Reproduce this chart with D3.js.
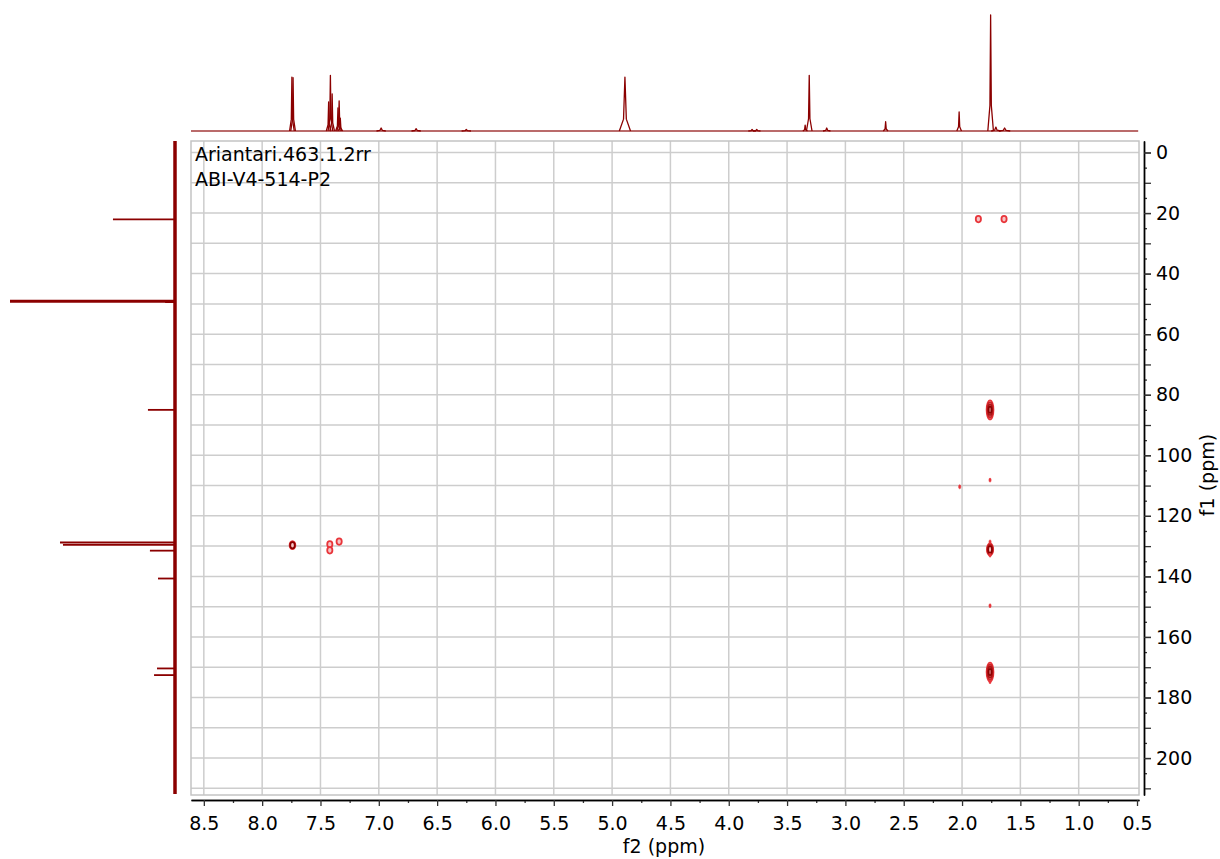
<!DOCTYPE html>
<html>
<head>
<meta charset="utf-8">
<script src="https://cdn.jsdelivr.net/npm/d3@7"></script>
<style>
  body { margin: 0; background: #fff; }
  svg { display: block; }
  text { font-family: "DejaVu Sans", Verdana, sans-serif; fill: #000; }
</style>
</head>
<body>
<svg id="chart" width="1220" height="859"></svg>
<script>
// dataset labels
const titleLines = ["Ariantari.463.1.2rr", "ABI-V4-514-P2"];

// 1H projection (top trace): shift (ppm), height (% of tallest), half width (ppm)
const hShift  = [7.745, 7.735, 7.43, 7.415, 7.40, 7.35, 7.34, 7.33, 6.98, 6.68, 6.25, 4.89, 3.80, 3.76, 3.345, 3.31, 3.16, 2.655, 2.025, 1.755, 1.71, 1.635];
const hHeight = [46.5, 46, 25, 48, 32, 20, 26, 11, 2.6, 2, 1.3, 46.5, 1.3, 1.3, 5, 48, 2.6, 8, 16.4, 100, 3.4, 2.6];
const hWidth  = [0.005, 0.005, 0.005, 0.005, 0.005, 0.005, 0.005, 0.005, 0.01, 0.01, 0.01, 0.012, 0.008, 0.008, 0.005, 0.006, 0.008, 0.005, 0.005, 0.006, 0.01, 0.012];

// 13C projection (left trace): shift (ppm), height (% of tallest)
const cShift  = [22.1, 49.1, 49.4, 85.0, 128.8, 129.6, 131.5, 140.7, 170.4, 172.6];
const cHeight = [37.6, 100, 6, 16.4, 69.7, 67.9, 15.2, 10.3, 10.9, 12.7];

// HMBC cross peaks: f2 (1H ppm), f1 (13C ppm), contour level count
const crossF2    = [7.74, 7.42, 7.42, 7.34, 1.86, 1.64, 1.76, 1.76, 2.02, 1.76, 1.76, 1.76, 1.76, 1.76, 1.76];
const crossF1    = [129.7, 129.4, 131.4, 128.5, 22.0, 22.0, 85.0, 108.2, 110.4, 128.6, 131.1, 133.0, 149.7, 171.6, 174.8];
const crossLevel = [2, 1, 1, 1, 1, 1, 4, 0, 0, 0, 3, 0, 0, 4, 0];

// axis ticks
const f2Ticks = [8.5, 8.0, 7.5, 7.0, 6.5, 6.0, 5.5, 5.0, 4.5, 4.0, 3.5, 3.0, 2.5, 2.0, 1.5, 1.0, 0.5];
const f1Ticks = [0, 20, 40, 60, 80, 100, 120, 140, 160, 180, 200];

const svg = d3.select("#chart");
const plot = { left: 191, right: 1139, top: 141, bottom: 795 };
const red = "#8b0000";

const x = d3.scaleLinear().domain([8.61, 0.483]).range([plot.left, plot.right]);
const y = d3.scaleLinear().domain([-3.8, 212.2]).range([plot.top, plot.bottom]);

// grid
const grid = svg.append("g").attr("stroke", "#cdcdcd").attr("stroke-width", 1.5);
grid.selectAll("line.v")
  .data(f2Ticks.filter(d => d > 0.5))
  .enter().append("line")
  .attr("x1", d => x(d)).attr("x2", d => x(d))
  .attr("y1", plot.top).attr("y2", plot.bottom);
grid.selectAll("line.h")
  .data(d3.range(0, 211, 10))
  .enter().append("line")
  .attr("x1", plot.left).attr("x2", plot.right)
  .attr("y1", d => y(d)).attr("y2", d => y(d));
svg.append("rect")
  .attr("x", plot.left).attr("y", plot.top)
  .attr("width", plot.right - plot.left).attr("height", plot.bottom - plot.top)
  .attr("fill", "none").attr("stroke", "#c4c4c4").attr("stroke-width", 1.5);

// bottom axis (f2)
const xAxisG = svg.append("g").attr("transform", "translate(0,800)");
xAxisG.call(d3.axisBottom(x).tickValues(d3.range(0.75, 8.6, 0.5)).tickSize(3).tickSizeOuter(0).tickFormat(""));
xAxisG.append("g").call(d3.axisBottom(x).tickValues(f2Ticks).tickSize(6).tickSizeOuter(0).tickFormat(d3.format(".1f")));
xAxisG.selectAll("path.domain").attr("stroke", "#000").attr("stroke-width", 1.3);
xAxisG.selectAll("line").attr("stroke", "#333").attr("stroke-width", 1.3);
xAxisG.selectAll("text").attr("font-size", 19).attr("dy", "1.1em").attr("fill", "#000");

svg.append("text")
  .attr("x", 664).attr("y", 853)
  .attr("text-anchor", "middle").attr("font-size", 19)
  .text("f2 (ppm)");

// right axis (f1)
const yAxisG = svg.append("g").attr("transform", "translate(1144,0)");
yAxisG.call(d3.axisRight(y).tickValues(d3.range(5, 211, 10)).tickSize(3).tickSizeOuter(0).tickFormat(""));
yAxisG.append("g").call(d3.axisRight(y).tickValues(d3.range(0, 211, 10)).tickSize(7).tickSizeOuter(0).tickFormat(""));
yAxisG.append("g").call(d3.axisRight(y).tickValues(f1Ticks).tickSize(7).tickSizeOuter(0).tickPadding(5));
yAxisG.selectAll("path.domain").attr("stroke", "#000").attr("stroke-width", 1.3);
yAxisG.selectAll("line").attr("stroke", "#333").attr("stroke-width", 1.3);
yAxisG.selectAll("text").attr("font-size", 19).attr("fill", "#000");

svg.append("text")
  .attr("transform", "translate(1214,475) rotate(-90)")
  .attr("text-anchor", "middle").attr("font-size", 19)
  .text("f1 (ppm)");

// dataset labels
svg.selectAll("text.title")
  .data(titleLines)
  .enter().append("text")
  .attr("class", "title")
  .attr("x", 195)
  .attr("y", (d, i) => 161 + i * 25)
  .attr("font-size", 19)
  .text(d => d);

// top 1H projection
const hy = d3.scaleLinear().domain([0, 100]).range([131, 15]);
const topLine = d3.line().x(d => x(d[0])).y(d => hy(d[1]));
svg.append("path")
  .attr("d", topLine([[x.domain()[0], 0], [0.49, 0]]))
  .attr("stroke", "#a33a3a").attr("stroke-width", 1.4).attr("fill", "none");
svg.append("g").selectAll("path")
  .data(hShift.map((s, i) => ({ s, h: hHeight[i], w: hWidth[i] })))
  .enter().append("path")
  .attr("d", p => topLine([
    [p.s + p.w * 4, 0], [p.s + p.w, p.h * 0.22], [p.s, p.h],
    [p.s - p.w, p.h * 0.22], [p.s - p.w * 4, 0]
  ]))
  .attr("stroke", red).attr("stroke-width", 1.3).attr("fill", "none")
  .attr("stroke-linejoin", "round");

// left 13C projection
const cx = d3.scaleLinear().domain([0, 100]).range([175, 10]);
svg.append("line")
  .attr("x1", 175).attr("x2", 175)
  .attr("y1", plot.top).attr("y2", plot.bottom - 1)
  .attr("stroke", red).attr("stroke-width", 3.5);
svg.append("g").selectAll("line")
  .data(cShift.map((s, i) => ({ s, h: cHeight[i] })))
  .enter().append("line")
  .attr("x1", 175).attr("x2", d => cx(d.h))
  .attr("y1", d => y(d.s)).attr("y2", d => y(d.s))
  .attr("stroke", red)
  .attr("stroke-width", d => d.h > 90 ? 3 : 1.8);

// cross peaks as stacked contour rings
const ryScale = d3.scaleLinear().domain([0, 1, 2, 3, 4]).range([2, 3.2, 4, 6, 9.5]);
const rxScale = d3.scaleLinear().domain([0, 1, 4]).range([1.1, 2.6, 3.4]);
const ringColor = d3.interpolateRgb("#e8353a", "#8b0000");
const contours = [];
crossF2.forEach((f2, i) => {
  const lv = crossLevel[i];
  const n = Math.max(lv, 1);
  for (let k = 0; k < n; k++) {
    contours.push({ f2, f1: crossF1[i], lv, k, n });
  }
});
svg.append("g").selectAll("ellipse")
  .data(contours)
  .enter().append("ellipse")
  .attr("cx", d => x(d.f2))
  .attr("cy", d => y(d.f1))
  .attr("rx", d => rxScale(d.lv) * (1 - d.k * 0.2))
  .attr("ry", d => ryScale(d.lv) * (1 - d.k * 0.22))
  .attr("fill", d => d.lv === 0 ? "#e8353a" : (d.k === 0 ? "#f6c4c6" : "none"))
  .attr("stroke", d => ringColor(d.n > 1 ? d.k / (d.n - 1) : 0))
  .attr("stroke-width", d => d.lv === 0 ? 0.6 : 1.8);
</script>
</body>
</html>
